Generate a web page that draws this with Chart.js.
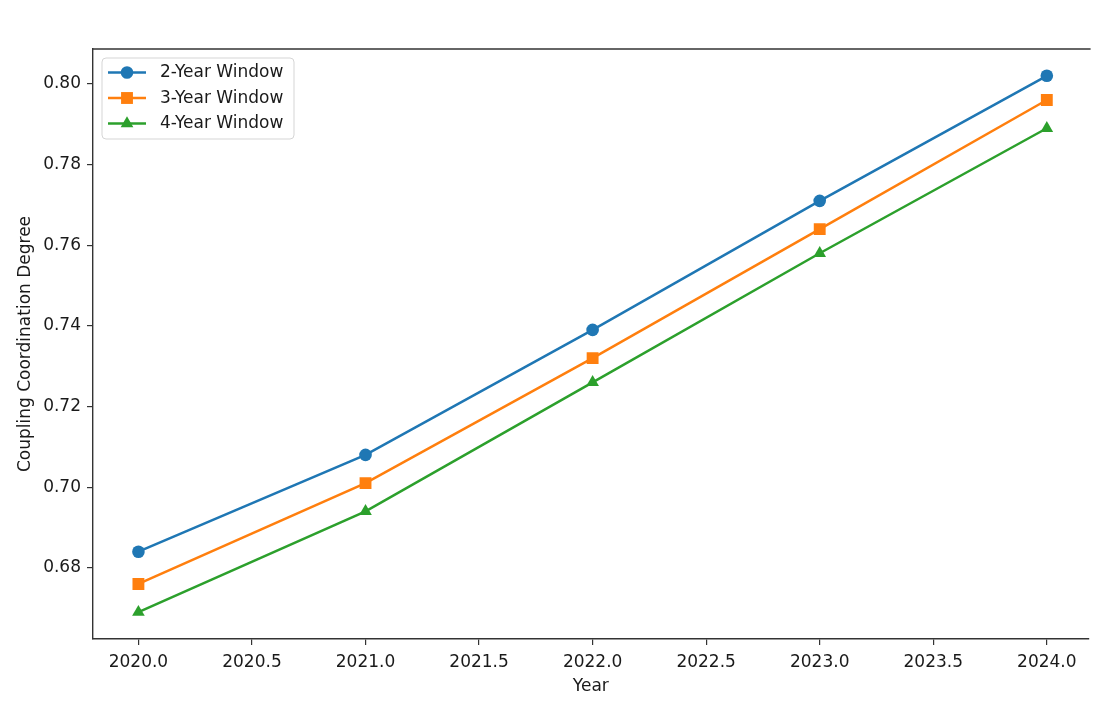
<!DOCTYPE html>
<html>
<head>
<meta charset="utf-8">
<script src="https://cdn.jsdelivr.net/npm/chart.js@4/dist/chart.umd.min.js"></script>
<style>
  html, body { margin: 0; padding: 0; background: #fff; overflow: hidden; }
  #wrap { width: 1097px; height: 702px; }
  canvas { background: #fff; display: block; }
</style>
</head>
<body>
<div id="wrap"><canvas id="c" width="1097" height="702"></canvas></div>
<script>
// Coupling coordination degree by year for three rolling windows
const years = [2020, 2021, 2022, 2023, 2024];
const window2 = [0.684, 0.708, 0.739, 0.771, 0.802];
const window3 = [0.676, 0.701, 0.732, 0.764, 0.796];
const window4 = [0.669, 0.694, 0.726, 0.758, 0.789];
const seriesNames = ['2-Year Window', '3-Year Window', '4-Year Window'];
const xTicks = [2020.0, 2020.5, 2021.0, 2021.5, 2022.0, 2022.5, 2023.0, 2023.5, 2024.0];
const yTicks = [0.68, 0.70, 0.72, 0.74, 0.76, 0.78, 0.80];

const colors = ['#1f77b4', '#ff7f0e', '#2ca02c'];
const styles = ['circle', 'rect', 'triangle'];
const radii = [6.3, 8.4, 7.3];
const FONT = "'DejaVu Sans', 'Liberation Sans', sans-serif";

function toPoints(vals) {
  return years.map((yr, i) => ({ x: yr, y: vals[i] }));
}

const datasets = [window2, window3, window4].map((vals, i) => ({
  label: seriesNames[i],
  data: toPoints(vals),
  borderColor: colors[i],
  backgroundColor: colors[i],
  borderWidth: 2.5,
  pointStyle: styles[i],
  pointRadius: radii[i],
  pointHoverRadius: radii[i],
  pointBorderWidth: 0,
  tension: 0,
  fill: false
}));

// Top frame line plus a matplotlib-style legend box
const framePlugin = {
  id: 'frameAndLegend',
  afterDraw(chart) {
    const ctx = chart.ctx;
    const a = chart.chartArea;
    ctx.save();
    ctx.strokeStyle = '#333';
    ctx.lineWidth = 1.4;
    ctx.beginPath();
    ctx.moveTo(a.left, a.top);
    ctx.lineTo(a.right + 2, a.top);
    ctx.stroke();

    // legend frame
    const bx = 102, by = 58, bw = 192, bh = 81, r = 4;
    ctx.beginPath();
    ctx.moveTo(bx + r, by);
    ctx.arcTo(bx + bw, by, bx + bw, by + bh, r);
    ctx.arcTo(bx + bw, by + bh, bx, by + bh, r);
    ctx.arcTo(bx, by + bh, bx, by, r);
    ctx.arcTo(bx, by, bx + bw, by, r);
    ctx.closePath();
    ctx.fillStyle = 'rgba(255,255,255,0.8)';
    ctx.fill();
    ctx.strokeStyle = '#d5d5d5';
    ctx.lineWidth = 1;
    ctx.stroke();

    chart.data.datasets.forEach((ds, i) => {
      const y = 72.5 + i * 25.5;
      ctx.strokeStyle = ds.borderColor;
      ctx.lineWidth = ds.borderWidth;
      ctx.beginPath();
      ctx.moveTo(108, y);
      ctx.lineTo(146, y);
      ctx.stroke();
      ctx.fillStyle = ds.backgroundColor;
      const opts = { pointStyle: ds.pointStyle, radius: ds.pointRadius, rotation: 0, borderWidth: 0 };
      if (Chart.helpers && Chart.helpers.drawPoint) {
        ctx.strokeStyle = ds.borderColor;
        Chart.helpers.drawPoint(ctx, opts, 127, y);
      } else {
        ctx.beginPath();
        ctx.arc(127, y, 6, 0, Math.PI * 2);
        ctx.fill();
      }
      ctx.fillStyle = '#1a1a1a';
      ctx.font = '17px ' + FONT;
      ctx.textBaseline = 'middle';
      ctx.textAlign = 'left';
      ctx.fillText(ds.label, 160, y + 0.5);
    });
    ctx.restore();
  }
};

new Chart(document.getElementById('c'), {
  type: 'line',
  data: { datasets },
  options: {
    responsive: false,
    animation: false,
    events: [],
    layout: { padding: { top: 49, right: 0, left: 0, bottom: 0 } },
    plugins: { legend: { display: false }, tooltip: { enabled: false } },
    scales: {
      x: {
        type: 'linear',
        min: 2019.8,
        max: 2024.184,
        afterFit(s) { s.height = 63; },
        afterBuildTicks(s) { s.ticks = xTicks.map(v => ({ value: v })); },
        grid: { drawOnChartArea: false, drawTicks: true, tickLength: 6, color: '#333', lineWidth: 1.2 },
        border: { display: true, color: '#333', width: 1.4 },
        ticks: {
          color: '#1a1a1a',
          font: { family: FONT, size: 17 },
          padding: 7,
          maxRotation: 0,
          autoSkip: false,
          callback: v => Number(v).toFixed(1)
        },
        title: {
          display: true,
          text: 'Year',
          color: '#1a1a1a',
          font: { family: FONT, size: 17 },
          padding: { top: 0, bottom: 5 }
        }
      },
      y: {
        min: 0.66235,
        max: 0.80865,
        afterFit(s) { s.width = 93; },
        afterBuildTicks(s) { s.ticks = yTicks.map(v => ({ value: v })); },
        grid: { drawOnChartArea: false, drawTicks: true, tickLength: 6, color: '#333', lineWidth: 1.2 },
        border: { display: true, color: '#333', width: 1.4 },
        ticks: {
          color: '#1a1a1a',
          font: { family: FONT, size: 17 },
          padding: 6,
          autoSkip: false,
          callback: v => Number(v).toFixed(2)
        },
        title: {
          display: true,
          text: 'Coupling Coordination Degree',
          color: '#1a1a1a',
          font: { family: FONT, size: 17 },
          padding: { top: 15, bottom: 0 }
        }
      }
    }
  },
  plugins: [framePlugin]
});
</script>
</body>
</html>
